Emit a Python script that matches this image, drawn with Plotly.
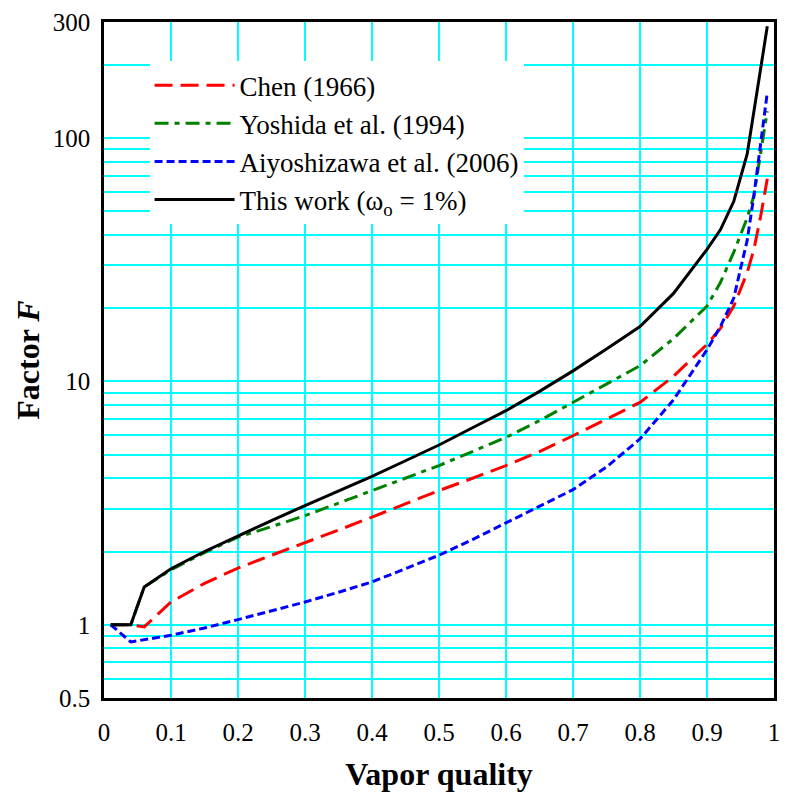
import plotly.graph_objects as go

# Vapor quality (x) and factor F for each correlation
x_chen = [0.01, 0.04, 0.06, 0.1, 0.15, 0.2, 0.25, 0.3, 0.35, 0.4, 0.45, 0.5, 0.55, 0.6, 0.65, 0.7,
          0.75, 0.8, 0.85, 0.9, 0.92, 0.94, 0.96, 0.97, 0.98, 0.99]
f_chen = [1.0, 1.0, 0.98, 1.24, 1.48, 1.71, 1.93, 2.17, 2.45, 2.77, 3.14, 3.56, 4.0, 4.51, 5.15, 5.98,
          7.0, 8.2, 10.5, 14.2, 16.5, 20.4, 28.0, 34.9, 47.6, 68.0]

x_yoshida = [0.01, 0.04, 0.06, 0.1, 0.15, 0.2, 0.25, 0.3, 0.35, 0.4, 0.45, 0.5, 0.55, 0.6, 0.65, 0.7,
             0.75, 0.8, 0.85, 0.9, 0.92, 0.94, 0.96, 0.97, 0.99]
f_yoshida = [1.0, 1.0, 1.43, 1.68, 1.98, 2.29, 2.53, 2.81, 3.16, 3.56, 4.0, 4.51, 5.15, 5.89, 6.9, 8.2,
             9.7, 11.6, 15.0, 20.4, 25.5, 34.0, 47.0, 58.0, 129.0]

x_aiyo = [0.01, 0.04, 0.1, 0.15, 0.2, 0.25, 0.3, 0.35, 0.4, 0.45, 0.5, 0.55, 0.6, 0.65, 0.7,
          0.75, 0.8, 0.85, 0.9, 0.92, 0.94, 0.95, 0.96, 0.97, 0.98, 0.99]
f_aiyo = [1.0, 0.85, 0.905, 0.97, 1.05, 1.14, 1.24, 1.36, 1.50, 1.70, 1.93, 2.24, 2.62, 3.05, 3.59,
          4.45, 5.8, 8.4, 13.5, 16.8, 22.0, 29.0, 38.0, 58.0, 95.0, 154.0]

x_this = [0.01, 0.04, 0.06, 0.1, 0.15, 0.2, 0.25, 0.3, 0.35, 0.4, 0.45, 0.5, 0.55, 0.6, 0.65, 0.7,
          0.75, 0.8, 0.85, 0.9, 0.92, 0.94, 0.96, 0.99]
f_this = [1.0, 1.0, 1.43, 1.70, 2.0, 2.32, 2.68, 3.09, 3.55, 4.07, 4.72, 5.48, 6.45, 7.58, 9.1, 11.05,
          13.6, 16.8, 23.0, 34.9, 42.0, 55.0, 86.0, 288.0]

x_tickvals = [0, 0.1, 0.2, 0.3, 0.4, 0.5, 0.6, 0.7, 0.8, 0.9, 1]
x_ticktext = ["0", "0.1", "0.2", "0.3", "0.4", "0.5", "0.6", "0.7", "0.8", "0.9", "1"]
y_tickvals = [0.5, 1, 10, 100, 300]
y_ticktext = ["0.5", "1", "10", "100", "300"]
y_minor = [0.6, 0.7, 0.8, 0.9, 2, 3, 4, 5, 6, 7, 8, 9, 20, 30, 40, 50, 60, 70, 80, 90, 200]

FONT = "Liberation Serif, Times New Roman, serif"

fig = go.Figure()
fig.add_trace(go.Scatter(x=x_chen, y=f_chen, mode="lines", name="Chen (1966)", legendgroup="a",
                         line=dict(color="#ff0000", width=3, dash="18px,8px")))
fig.add_trace(go.Scatter(x=x_yoshida, y=f_yoshida, mode="lines", name="Yoshida et al. (1994)", legendgroup="b",
                         line=dict(color="#008000", width=3, dash="14px,6px,5px,6px")))
fig.add_trace(go.Scatter(x=x_aiyo, y=f_aiyo, mode="lines", name="Aiyoshizawa et al. (2006)", legendgroup="c",
                         line=dict(color="#0000ff", width=3, dash="8px,4px")))
fig.add_trace(go.Scatter(x=x_this, y=f_this, mode="lines", name="This work (ω<sub>o</sub> = 1%)", legendgroup="d",
                         line=dict(color="#000000", width=3)))

fig.update_layout(
    width=789, height=798,
    margin=dict(l=104, r=9, t=22, b=100),
    paper_bgcolor="white", plot_bgcolor="white",
    font=dict(family=FONT, size=24, color="black"),
    showlegend=True,
    legend=dict(x=0.068, y=0.942, xanchor="left", yanchor="top",
                bgcolor="white", borderwidth=0,
                font=dict(family=FONT, size=27, color="black"),
                itemwidth=80, tracegroupgap=0),
)
fig.update_xaxes(
    range=[0, 1], tickvals=x_tickvals, ticktext=x_ticktext,
    showgrid=True, gridcolor="#00ffff", gridwidth=1.5,
    showline=True, linecolor="black", linewidth=2.5, mirror=True,
    ticks="", zeroline=False, ticklabelstandoff=10,
    tickfont=dict(family=FONT, size=25, color="black"),
    title=dict(text="<b>Vapor quality</b>", font=dict(family=FONT, size=32, color="black"), standoff=18),
)
fig.update_yaxes(
    type="log", range=[-0.30103, 2.47712],
    tickvals=y_tickvals, ticktext=y_ticktext,
    showgrid=True, gridcolor="#00ffff", gridwidth=1.5,
    minor=dict(tickvals=y_minor, showgrid=True, gridcolor="#00ffff", gridwidth=1.5, ticks=""),
    showline=True, linecolor="black", linewidth=2.5, mirror=True,
    ticks="", zeroline=False, ticklabelstandoff=6,
    tickfont=dict(family=FONT, size=25, color="black"),
    title=dict(text="<b>Factor <i>F</i></b>", font=dict(family=FONT, size=32, color="black"), standoff=4),
)

fig.write_html("out.html")
